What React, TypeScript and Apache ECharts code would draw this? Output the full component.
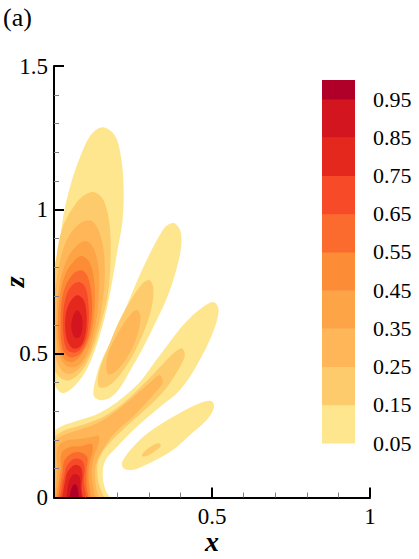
import React, { useEffect, useRef } from 'react';
import * as echarts from 'echarts';

const FONT = 'Liberation Serif, Times New Roman, serif';

// contour level boundaries (colour bar) and fill colours, low -> high
const LEVEL_BOUNDS = [0.05, 0.15, 0.25, 0.35, 0.45, 0.55, 0.65, 0.75, 0.85, 0.95, 1.0];
const LEVEL_COLORS = ['#fee68e', '#fecb6c', '#feb658', '#fda447', '#fd8c37', '#fc6b2e', '#f64a29', '#e5281e', '#d2151f', '#b0002a'];

// filled contour outlines, [x, z]
// lobe A (upper-left tall lobe)
const A1 = [[0.154,1.287],[0.192,1.259],[0.211,1.190],[0.220,1.085],[0.217,0.964],[0.201,0.860],[0.182,0.738],[0.160,0.624],[0.135,0.530],[0.106,0.450],[0.068,0.391],[0.030,0.363],[0.008,0.380],[-0.015,0.443],[-0.025,0.582],[-0.02,0.721],[0.014,0.860],[0.030,0.981],[0.052,1.085],[0.081,1.179],[0.116,1.259]];
const A2 = [[0.128,1.061],[0.157,1.033],[0.176,0.946],[0.179,0.825],[0.170,0.703],[0.147,0.599],[0.122,0.512],[0.090,0.443],[0.049,0.408],[0.017,0.419],[-0.01,0.478],[-0.02,0.617],[0.002,0.790],[0.024,0.929],[0.065,1.016],[0.100,1.054]];
const A3 = [[0.113,0.964],[0.138,0.936],[0.157,0.860],[0.160,0.755],[0.147,0.634],[0.125,0.540],[0.097,0.471],[0.059,0.432],[0.027,0.439],[0.005,0.491],[-0.005,0.617],[0.008,0.755],[0.033,0.877],[0.071,0.943]];
const A4 = [[0.103,0.891],[0.125,0.867],[0.141,0.797],[0.141,0.686],[0.128,0.582],[0.106,0.505],[0.074,0.457],[0.040,0.457],[0.014,0.505],[0.008,0.617],[0.017,0.738],[0.043,0.832],[0.078,0.881]];
const A5 = [[0.090,0.839],[0.113,0.818],[0.128,0.745],[0.128,0.651],[0.116,0.564],[0.090,0.502],[0.059,0.471],[0.030,0.485],[0.014,0.564],[0.017,0.686],[0.036,0.776],[0.068,0.828]];
const A6 = [[0.087,0.790],[0.106,0.769],[0.119,0.703],[0.119,0.624],[0.106,0.547],[0.081,0.498],[0.049,0.488],[0.027,0.519],[0.021,0.617],[0.030,0.714],[0.059,0.776]];
const A7 = [[0.081,0.749],[0.100,0.728],[0.109,0.669],[0.109,0.599],[0.097,0.537],[0.071,0.505],[0.043,0.512],[0.030,0.564],[0.030,0.651],[0.043,0.714],[0.062,0.742]];
const A8 = [[0.074,0.703],[0.094,0.686],[0.103,0.634],[0.100,0.571],[0.084,0.526],[0.059,0.519],[0.040,0.554],[0.036,0.624],[0.049,0.676]];
const A9 = [[0.074,0.651],[0.087,0.630],[0.090,0.589],[0.081,0.557],[0.065,0.557],[0.055,0.589],[0.059,0.627]];
// lobe B (second diagonal lobe)
const B1 = [[0.382,0.953],[0.401,0.922],[0.401,0.860],[0.382,0.773],[0.357,0.693],[0.322,0.610],[0.281,0.519],[0.242,0.443],[0.208,0.380],[0.176,0.346],[0.144,0.339],[0.125,0.356],[0.135,0.425],[0.154,0.485],[0.182,0.547],[0.208,0.610],[0.240,0.693],[0.271,0.773],[0.309,0.860],[0.344,0.929],[0.363,0.950]];
const B2 = [[0.303,0.755],[0.315,0.721],[0.303,0.634],[0.261,0.519],[0.208,0.425],[0.166,0.384],[0.141,0.387],[0.144,0.443],[0.170,0.519],[0.208,0.617],[0.249,0.697],[0.281,0.745]];
const B3 = [[0.265,0.651],[0.274,0.617],[0.249,0.522],[0.201,0.443],[0.170,0.429],[0.170,0.495],[0.208,0.582],[0.246,0.641]];
// band C joined with bottom lobe E
const CE1 = [[0.506,0.679],[0.521,0.651],[0.502,0.571],[0.452,0.460],[0.398,0.373],[0.334,0.314],[0.261,0.245],[0.198,0.175],[0.163,0.130],[0.154,0.078],[0.163,0.026],[0.182,-0.010],[0.19,-0.06],[-0.05,-0.06],[-0.05,0.21],[-0.008,0.228],[0.024,0.248],[0.081,0.269],[0.144,0.294],[0.208,0.339],[0.271,0.401],[0.319,0.471],[0.366,0.540],[0.414,0.606],[0.471,0.662]];
const CE2 = [[0.404,0.519],[0.414,0.495],[0.398,0.453],[0.350,0.373],[0.287,0.304],[0.223,0.241],[0.170,0.182],[0.141,0.130],[0.138,0.068],[0.151,0.019],[0.163,-0.010],[0.17,-0.06],[-0.05,-0.06],[-0.05,0.19],[-0.008,0.207],[0.033,0.234],[0.097,0.255],[0.160,0.283],[0.223,0.332],[0.287,0.398],[0.341,0.460],[0.382,0.505]];
const CE3 = [[0.334,0.425],[0.344,0.401],[0.319,0.363],[0.255,0.287],[0.192,0.224],[0.154,0.165],[0.132,0.113],[0.132,0.043],[0.144,-0.010],[0.15,-0.06],[-0.05,-0.06],[-0.05,0.17],[-0.008,0.182],[0.017,0.210],[0.074,0.234],[0.138,0.259],[0.201,0.304],[0.265,0.363],[0.312,0.408]];
const E4 = [[0.011,0.172],[0.036,0.196],[0.081,0.203],[0.119,0.210],[0.141,0.214],[0.141,0.186],[0.128,0.148],[0.119,0.089],[0.125,0.026],[0.135,-0.05],[-0.002,-0.05],[0.005,0.026],[0.011,0.096]];
const E5 = [[0.024,0.155],[0.049,0.175],[0.087,0.179],[0.119,0.186],[0.122,0.158],[0.113,0.123],[0.109,0.068],[0.116,0.009],[0.122,-0.05],[0.005,-0.05],[0.011,0.026],[0.021,0.096]];
const E6 = [[0.033,0.130],[0.059,0.155],[0.090,0.155],[0.106,0.137],[0.103,0.096],[0.103,0.043],[0.109,-0.05],[0.011,-0.05],[0.017,0.026],[0.027,0.089]];
const E7 = [[0.040,0.109],[0.062,0.134],[0.087,0.130],[0.097,0.102],[0.094,0.061],[0.100,-0.05],[0.017,-0.05],[0.024,0.026],[0.033,0.078]];
const E8 = [[0.043,0.089],[0.065,0.113],[0.084,0.106],[0.090,0.078],[0.087,0.033],[0.094,-0.05],[0.024,-0.05],[0.030,0.026],[0.036,0.061]];
const E9 = [[0.049,0.061],[0.065,0.082],[0.081,0.071],[0.084,0.033],[0.087,-0.05],[0.033,-0.05],[0.040,0.009]];
const E10 = [[0.055,0.030],[0.065,0.047],[0.074,0.036],[0.078,0.009],[0.081,-0.05],[0.046,-0.05],[0.049,-0.002]];
// lobe D (small lower-right lobe)
const D1 = [[0.499,0.335],[0.506,0.311],[0.483,0.269],[0.430,0.217],[0.376,0.165],[0.303,0.120],[0.249,0.096],[0.220,0.102],[0.217,0.127],[0.271,0.200],[0.334,0.252],[0.398,0.294],[0.461,0.328]];
const D2 = [[0.278,0.144],[0.287,0.161],[0.309,0.179],[0.331,0.189],[0.338,0.179],[0.319,0.161],[0.293,0.144]];

// contour level index of each outline, drawn low -> high
const SHAPES: { level: number; pts: number[][] }[] = [
  { level: 0, pts: A1 }, { level: 0, pts: B1 }, { level: 0, pts: CE1 }, { level: 0, pts: D1 },
  { level: 1, pts: A2 }, { level: 1, pts: B2 }, { level: 1, pts: CE2 }, { level: 1, pts: D2 },
  { level: 2, pts: A3 }, { level: 2, pts: B3 }, { level: 2, pts: CE3 },
  { level: 3, pts: A4 }, { level: 3, pts: E4 },
  { level: 4, pts: A5 }, { level: 4, pts: E5 },
  { level: 5, pts: A6 }, { level: 5, pts: E6 },
  { level: 6, pts: A7 }, { level: 6, pts: E7 },
  { level: 7, pts: A8 }, { level: 7, pts: E8 },
  { level: 8, pts: A9 }, { level: 8, pts: E9 },
  { level: 9, pts: E10 },
];

const axisFont = { fontFamily: FONT, fontSize: 23, color: '#000' };
const cbarFont = { fontFamily: FONT, fontSize: 22, color: '#000' };
const nameFont = { fontFamily: FONT, fontSize: 28, fontStyle: 'italic', fontWeight: 'bold', color: '#000' };

export default function App() {
  const ref = useRef<HTMLDivElement>(null);
  useEffect(() => {
    const chart = echarts.init(ref.current!, null, { renderer: 'svg' });
    const option: any = {
      animation: false,
      backgroundColor: '#ffffff',
      textStyle: { fontFamily: FONT },
      grid: [
        { left: 54, top: 66, width: 316, height: 431.5, containLabel: false, outerBoundsMode: 'none' },
        { left: 322, top: 80, width: 33, height: 363, containLabel: false, outerBoundsMode: 'none' },
      ],
      xAxis: [
        {
          gridIndex: 0, type: 'value', min: 0, max: 1, interval: 0.5, z: 10,
          axisLine: { show: true, onZero: false, lineStyle: { color: '#000', width: 2 } },
          axisTick: { show: true, inside: true, length: 10, lineStyle: { color: '#000', width: 2 } },
          minorTick: { show: true, splitNumber: 5, length: 5, lineStyle: { color: '#808080', width: 1 } },
          splitLine: { show: false },
          axisLabel: { ...axisFont, margin: 7, formatter: (v: number) => (v === 0 ? '' : String(v)) },
          name: 'x', nameLocation: 'middle', nameGap: 30, nameMoveOverlap: false, nameTextStyle: nameFont,
        },
        { gridIndex: 1, type: 'value', min: 0, max: 1, show: false },
      ],
      yAxis: [
        {
          gridIndex: 0, type: 'value', min: 0, max: 1.5, interval: 0.5, z: 10,
          axisLine: { show: true, onZero: false, lineStyle: { color: '#000', width: 2 } },
          axisTick: { show: true, inside: true, length: 10, lineStyle: { color: '#000', width: 2 } },
          minorTick: { show: true, splitNumber: 5, length: 5, lineStyle: { color: '#808080', width: 1 } },
          splitLine: { show: false },
          axisLabel: { ...axisFont, margin: 6 },
          name: 'z', nameLocation: 'middle', nameGap: 26, nameMoveOverlap: false, nameTextStyle: nameFont,
        },
        {
          gridIndex: 1, type: 'value', min: 0.05, max: 1.0, interval: 0.1, position: 'right',
          axisLine: { show: false }, axisTick: { show: false }, splitLine: { show: false },
          axisLabel: { ...cbarFont, margin: 18, formatter: (v: number) => (v > 0.99 ? '' : v.toFixed(2)) },
        },
      ],
      graphic: [
        { type: 'text', left: 3, top: 4, style: { text: '(a)', fontFamily: FONT, fontSize: 26, fill: '#000' } },
      ],
      series: [
        {
          type: 'custom', coordinateSystem: 'cartesian2d', xAxisIndex: 0, yAxisIndex: 0,
          clip: true, silent: true,
          data: SHAPES.map((s, i) => [s.pts[0][0], s.pts[0][1], i]),
          encode: { x: 0, y: 1 },
          renderItem: (params: any, api: any) => {
            const s = SHAPES[params.dataIndex];
            const points = s.pts.map((p) => api.coord(p));
            return {
              type: 'polygon',
              shape: { points, smooth: 0.35 },
              style: { fill: LEVEL_COLORS[s.level], stroke: null },
            };
          },
        },
        {
          type: 'custom', coordinateSystem: 'cartesian2d', xAxisIndex: 1, yAxisIndex: 1,
          silent: true,
          data: LEVEL_COLORS.map((_, i) => [0, LEVEL_BOUNDS[i], LEVEL_BOUNDS[i + 1], i]),
          encode: { x: 0, y: 1 },
          renderItem: (params: any, api: any) => {
            const i = params.dataIndex;
            const p1 = api.coord([0, LEVEL_BOUNDS[i + 1]]);
            const p2 = api.coord([1, LEVEL_BOUNDS[i]]);
            return {
              type: 'rect',
              shape: { x: p1[0], y: p1[1], width: p2[0] - p1[0], height: p2[1] - p1[1] + 0.5 },
              style: { fill: LEVEL_COLORS[i] },
            };
          },
        },
      ],
    };
    chart.setOption(option);
    return () => chart.dispose();
  }, []);
  return <div ref={ref} style={{ position: 'fixed', left: 0, top: 0, width: 419, height: 559 }} />;
}
